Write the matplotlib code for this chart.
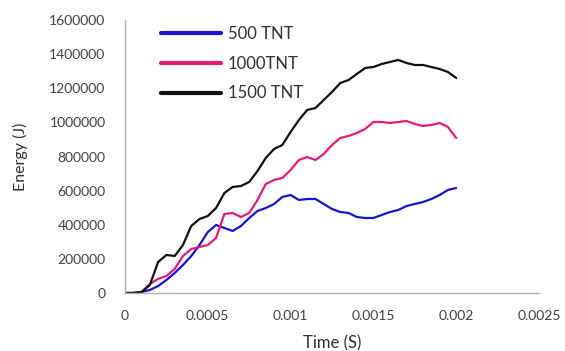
import matplotlib
matplotlib.use("Agg")
import matplotlib.pyplot as plt
import numpy as np

plt.rcParams['font.family'] = ['Lato', 'DejaVu Sans']

time_s = [i * 0.00005 for i in range(41)]

energy_500 = [0, 0, 5900, 17600, 41000, 76200, 117200, 164100, 216900, 281300,
              357500, 398500, 381000, 363400, 392700, 439600, 480600, 498200, 521600, 562700,
              574400, 545100, 550900, 550900, 521600, 492300, 474700, 468900, 445400, 439600,
              439600, 457200, 474700, 486500, 509900, 521600, 533400, 550900, 574400, 603700,
              615400]
energy_1000 = [0, 0, 5900, 52700, 82100, 99600, 140700, 216900, 257900, 269600,
               281300, 322400, 463000, 468900, 445400, 468900, 545100, 638800, 662300, 674000,
               720900, 779500, 797100, 779500, 814700, 867400, 908500, 920200, 937800, 961200,
               1002200, 1002200, 996400, 1002200, 1008100, 990500, 978800, 984600, 996400, 972900,
               908500]
energy_1500 = [0, 0, 5000, 46900, 181700, 222700, 216900, 281300, 392700, 433700,
               451300, 498200, 586100, 621300, 627100, 650600, 715000, 791200, 844000, 867400,
               943600, 1013900, 1072600, 1084300, 1131200, 1178100, 1230800, 1248400, 1283600, 1318700,
               1324600, 1342200, 1353900, 1365600, 1348000, 1336300, 1336300, 1324600, 1312900, 1295300,
               1260100]

series_labels = ['500 TNT', '1000TNT', '1500 TNT']
series_colors = ['#1414d2', '#e8197c', '#111111']

x_ticks = [0, 0.0005, 0.001, 0.0015, 0.002, 0.0025]
x_tick_labels = ['0', '0.0005', '0.001', '0.0015', '0.002', '0.0025']
y_ticks = [0, 200000, 400000, 600000, 800000, 1000000, 1200000, 1400000, 1600000]
y_tick_labels = [str(v) for v in y_ticks]

fig = plt.figure(figsize=(5.65, 3.51), dpi=100)
ax = fig.add_axes([125/565, 58/351, 414/565, 273/351])

for data, lab, col in zip([energy_500, energy_1000, energy_1500], series_labels, series_colors):
    ax.plot(time_s, data, color=col, lw=1.6, label=lab,
            solid_joinstyle='round', solid_capstyle='round')

ax.set_xlim(0, 0.0025)
ax.set_ylim(0, 1600000)
ax.set_xticks(x_ticks)
ax.set_xticklabels(x_tick_labels)
ax.set_yticks(y_ticks)
ax.set_yticklabels(y_tick_labels)
ax.tick_params(axis='both', length=0, labelsize=10, colors='#404040')
ax.tick_params(axis='y', pad=14)
ax.tick_params(axis='x', pad=12)

for s in ['top', 'right']:
    ax.spines[s].set_visible(False)
for s in ['left', 'bottom']:
    ax.spines[s].set_color('#b0b0b0')
    ax.spines[s].set_linewidth(1.0)

ax.set_xlabel('Time (S)', fontsize=12, color='#303030', labelpad=10)
ax.set_ylabel('Energy (J)', fontsize=11.5, color='#303030', labelpad=15)

leg = ax.legend(loc='upper left', bbox_to_anchor=(36/414, 0.978), frameon=False,
                handlelength=3.6, handletextpad=0.4, labelspacing=0.82,
                borderpad=0, borderaxespad=0, fontsize=12)
for line in leg.get_lines():
    line.set_linewidth(3)
for t in leg.get_texts():
    t.set_color('#303030')

fig.savefig('out.png', dpi=100)
